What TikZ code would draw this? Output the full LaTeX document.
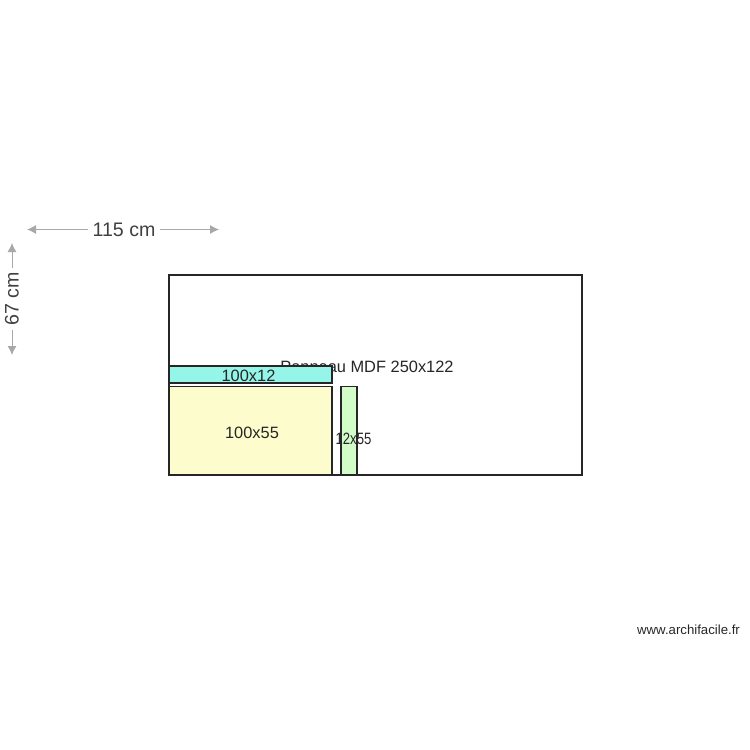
\documentclass[tikz,border=0pt]{standalone}
\usepackage{fontspec}
\setmainfont{Liberation Sans}
\usetikzlibrary{arrows.meta}
\definecolor{dimgray}{HTML}{A8A8A8}
\definecolor{dimtext}{HTML}{404040}
\definecolor{cutcyan}{HTML}{95F5E8}
\definecolor{cutyellow}{HTML}{FCFCCC}
\definecolor{cutgreen}{HTML}{D2FCC8}
\tikzset{
  panel/.style={draw=black!85, line width=1.8pt},
  dimline/.style={draw=dimgray, line width=1pt, -{Latex[length=9pt,width=9pt]}},
  dimlabel/.style={text=dimtext, font=\fontsize{19.6}{20}\selectfont, inner sep=4pt},
  cutlabel/.style={text=black!85, font=\fontsize{16.4}{17}\selectfont, inner sep=0pt}
}
\begin{document}
\begin{tikzpicture}[x=1pt, y=-1pt]
  \useasboundingbox (0, 0) rectangle (750, 750);

  \draw [panel] (169, 275) rectangle (582, 475);
  \node [cutlabel] (PanelText) at (367, 366.5) {Panneau MDF 250x122};

  \draw [panel, fill=cutcyan] (169, 366) rectangle (332, 383);
  \draw [panel, fill=cutyellow] (169, 386.5) rectangle (332, 475);
  \draw [panel, fill=cutgreen] (341, 386.5) rectangle (357, 475);

  \node [cutlabel] (TopText) at (248.5, 375.5) {100x12};
  \node [cutlabel] (BigText) at (252, 432.5) {100x55};
  \node [cutlabel, xscale=0.8] (SideText) at (353.5, 439) {12x55};

  % dimensions
  \node [dimlabel] (WidthText) at (124, 229.5) {115 cm};
  \node [dimlabel, rotate=90] (HeightText) at (12, 299) {67 cm};
  \coordinate (WL) at (27, 229.5);
  \coordinate (WR) at (219, 229.5);
  \coordinate (HT) at (12, 243);
  \coordinate (HB) at (12, 355);
  \draw [dimline] (WidthText) -- (WL);
  \draw [dimline] (WidthText) -- (WR);
  \draw [dimline] (HeightText) -- (HT);
  \draw [dimline] (HeightText) -- (HB);

  \node [font=\fontsize{13.2}{14}\selectfont, text=black!85, inner sep=0pt] (Site) at (688.5, 630) {www.archifacile.fr};
\end{tikzpicture}
\end{document}
